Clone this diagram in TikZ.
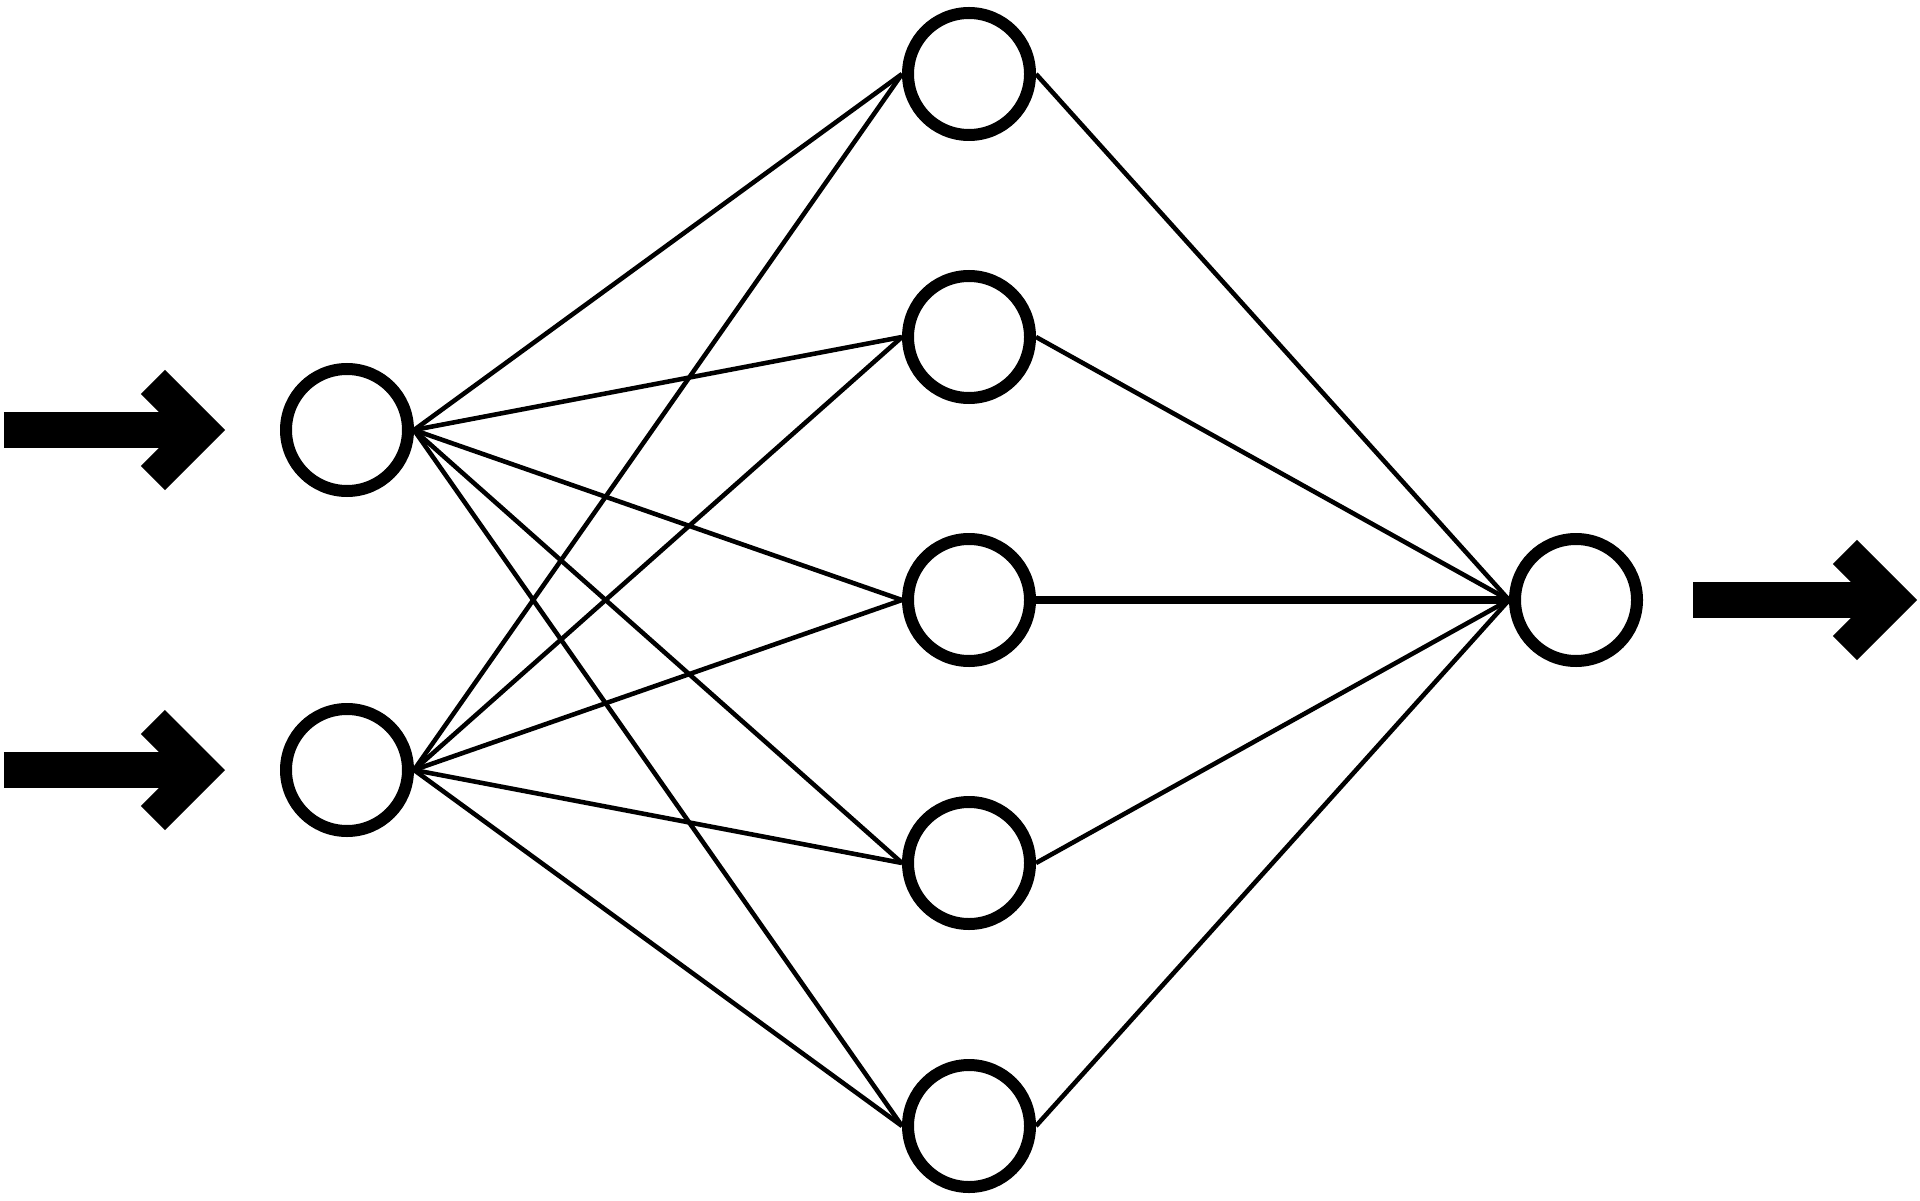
\documentclass[tikz,border=0pt]{standalone}
\usetikzlibrary{arrows.meta}
\begin{document}
\begin{tikzpicture}[
	neuron/.style={circle,draw,line width=0.12cm,minimum size=1.22cm,inner sep=0pt},
	link/.style={line width=1.3pt},
	bigarrow/.style={line width=0.36cm,-{Straight Barb[length=0.48cm,width=0.96cm,line width=0.34cm]}}]
	\useasboundingbox (0,0) rectangle (19.2,12);
	
	\node[neuron] (i1) at (3.47,7.70) {};
	\node[neuron] (i2) at (3.47,4.30) {};
	
	\node[neuron] (h1) at (9.69,11.26) {};
	\node[neuron] (h2) at (9.69,8.63) {};
	\node[neuron] (h3) at (9.69,6.00) {};
	\node[neuron] (h4) at (9.69,3.37) {};
	\node[neuron] (h5) at (9.69,0.74) {};
	
	\node[neuron] (o1) at (15.76,6.00) {};
	
	\coordinate (a1) at (0.04,7.70);
	\coordinate (b1) at (2.25,7.70);
	\coordinate (a2) at (0.04,4.30);
	\coordinate (b2) at (2.25,4.30);
	\coordinate (a3) at (16.93,6.00);
	\coordinate (b3) at (19.17,6.00);
	
	\draw[bigarrow] (a1)--(b1);
	\draw[bigarrow] (a2)--(b2);
	\draw[bigarrow] (a3)--(b3);
	
	\foreach \i in {i1,i2}
		\foreach \h in {h1,h2,h3,h4,h5}
			\draw[link] (\i.east)--(\h.west);
	\draw[link] (h1.east)--(o1.west);
	\draw[link] (h2.east)--(o1.west);
	\draw[line width=2.1pt] (h3.east)--(o1.west);
	\draw[link] (h4.east)--(o1.west);
	\draw[link] (h5.east)--(o1.west);
\end{tikzpicture}
\end{document}
